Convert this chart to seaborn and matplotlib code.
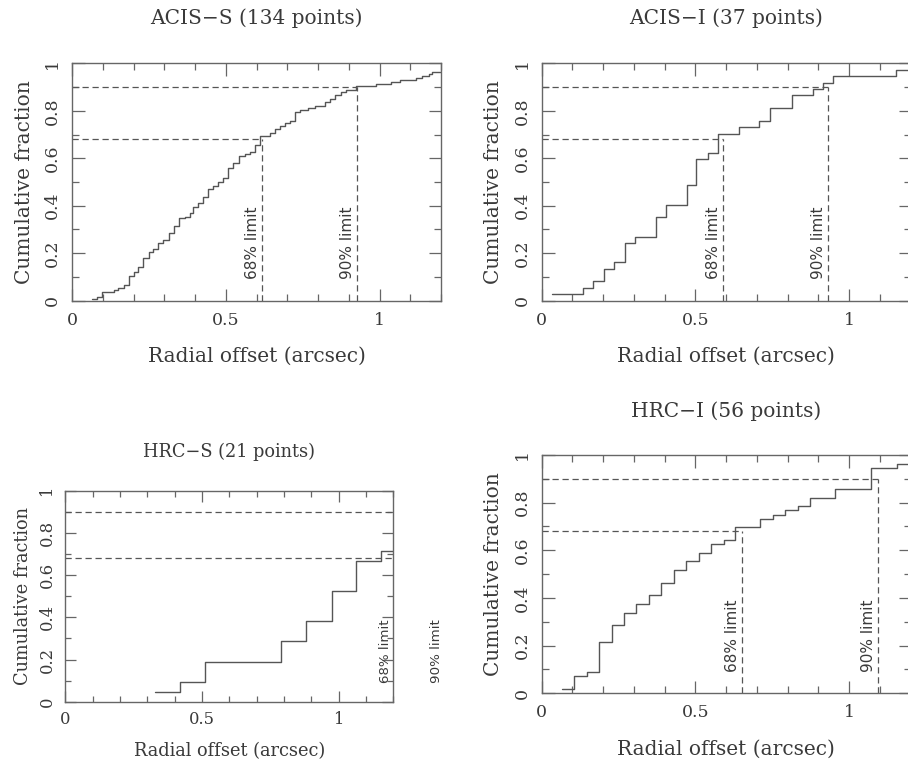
import pandas as pd
import matplotlib
matplotlib.use("Agg")
import matplotlib.pyplot as plt
import seaborn as sns
from matplotlib.ticker import MultipleLocator, FuncFormatter

# titres des panneaux
titles = ["ACIS−S (134 points)", "ACIS−I (37 points)",
          "HRC−S (21 points)", "HRC−I (56 points)"]

# positions des marches (arcsec) et fraction cumulée après chaque marche
acis_s_x = [0.065, 0.081, 0.099, 0.135, 0.151, 0.168, 0.184, 0.200, 0.216, 0.230,
            0.249, 0.265, 0.281, 0.297, 0.314, 0.333, 0.349, 0.368, 0.384, 0.395,
            0.411, 0.427, 0.443, 0.459, 0.476, 0.492, 0.508, 0.524, 0.543, 0.562,
            0.578, 0.595, 0.611, 0.643, 0.659, 0.676, 0.692, 0.708, 0.724, 0.741,
            0.768, 0.789, 0.822, 0.838, 0.854, 0.876, 0.892, 0.924, 0.989, 1.039,
            1.068, 1.120, 1.139, 1.161, 1.170]
acis_s_y = [0.007, 0.014, 0.035, 0.045, 0.052, 0.066, 0.105, 0.122, 0.143, 0.178,
            0.204, 0.218, 0.242, 0.256, 0.284, 0.315, 0.347, 0.354, 0.368, 0.396,
            0.410, 0.435, 0.469, 0.483, 0.499, 0.515, 0.558, 0.579, 0.610, 0.620,
            0.628, 0.656, 0.694, 0.708, 0.723, 0.736, 0.747, 0.757, 0.793, 0.803,
            0.813, 0.822, 0.838, 0.848, 0.866, 0.881, 0.888, 0.904, 0.913, 0.922,
            0.930, 0.937, 0.946, 0.955, 0.962]

acis_i_x = [0.032, 0.133, 0.168, 0.202, 0.235, 0.270, 0.304, 0.371, 0.403, 0.472,
            0.503, 0.541, 0.574, 0.643, 0.708, 0.743, 0.814, 0.881, 0.914, 0.946,
            1.151]
acis_i_y = [0.027, 0.054, 0.081, 0.135, 0.162, 0.243, 0.270, 0.351, 0.405, 0.486,
            0.595, 0.622, 0.703, 0.730, 0.757, 0.811, 0.865, 0.892, 0.919, 0.946,
            0.973]

hrc_s_x = [0.329, 0.421, 0.512, 0.789, 0.882, 0.976, 1.065, 1.156]
hrc_s_y = [0.048, 0.095, 0.190, 0.286, 0.381, 0.524, 0.667, 0.714]

hrc_i_x = [0.067, 0.106, 0.148, 0.186, 0.228, 0.268, 0.308, 0.349, 0.389, 0.429,
           0.470, 0.511, 0.551, 0.592, 0.630, 0.711, 0.751, 0.792, 0.832, 0.872,
           0.954, 1.072, 1.155]
hrc_i_y = [0.018, 0.071, 0.089, 0.214, 0.286, 0.339, 0.375, 0.411, 0.464, 0.518,
           0.554, 0.589, 0.625, 0.643, 0.696, 0.732, 0.750, 0.768, 0.786, 0.821,
           0.857, 0.946, 0.964]

# limites 68% / 90% (arcsec)
limit68 = [0.618, 0.591, 1.203, 0.651]
limit90 = [0.928, 0.930, 1.389, 1.094]
levels = [0.68, 0.90]
x_max = 1.2

curves = [(acis_s_x, acis_s_y), (acis_i_x, acis_i_y),
          (hrc_s_x, hrc_s_y), (hrc_i_x, hrc_i_y)]

# position des axes en pixels: gauche, haut, largeur, hauteur
boxes = [(72, 63.3, 369, 237.4), (541.7, 63.3, 369, 237.4),
         (65.3, 491, 328, 210.7), (541.7, 455, 369, 238.3)]
# échelle des textes (le panneau HRC-S est plus petit)
scales = [1.0, 1.0, 0.88, 1.0]
tick_scales = [1.0, 1.0, 0.94, 1.0]
title_y = [1.19, 1.19, 1.187, 1.182]

W, H = 908, 767
ink = "#3a3a3a"
line_col = "#555555"

sns.set_style("ticks")
plt.rcParams["font.family"] = ["DejaVu Serif"]


def fmt(v, pos):
    return f"{v:g}"


def draw_panel(fig, i):
    left, top, w, h = boxes[i]
    s = scales[i]
    ax = fig.add_axes([left / W, (H - top - h) / H, w / W, h / H])
    xs, ys = curves[i]
    df = pd.DataFrame({"offset": xs + [x_max], "frac": ys + [ys[-1]]})
    sns.lineplot(data=df, x="offset", y="frac", drawstyle="steps-post",
                 color=line_col, lw=1.0, ax=ax)

    # lignes des limites
    xl = [limit68[i], limit90[i]]
    ax.hlines(levels, 0, xl, colors=line_col, lw=0.9, linestyles=(0, (5, 3)))
    ax.vlines(xl, 0, levels, colors=line_col, lw=0.9, linestyles=(0, (5, 3)))
    for x, lab in zip(xl, ["68% limit", "90% limit"]):
        ax.text(x - 0.007, 0.09, lab, rotation=90, ha="right", va="bottom",
                fontsize=11 * s, family="DejaVu Sans", color=ink, clip_on=False)

    ax.set_xlim(0, x_max)
    ax.set_ylim(0, 1)
    ax.xaxis.set_major_locator(MultipleLocator(0.5))
    ax.xaxis.set_minor_locator(MultipleLocator(0.1))
    ax.yaxis.set_major_locator(MultipleLocator(0.2))
    ax.yaxis.set_minor_locator(MultipleLocator(0.1))
    ax.xaxis.set_major_formatter(FuncFormatter(fmt))
    ax.yaxis.set_major_formatter(FuncFormatter(fmt))
    ax.tick_params(which="both", direction="in", top=True, right=True,
                   color="#666666", width=0.9, labelsize=12.5 * tick_scales[i],
                   labelcolor=ink, pad=8 * s)
    ax.tick_params(which="major", length=9 * s)
    ax.tick_params(which="minor", length=5 * s)
    for lab in ax.get_yticklabels():
        lab.set_rotation(90)
        lab.set_va("center")
    for sp in ax.spines.values():
        sp.set_color("#666666")
        sp.set_linewidth(1.0)

    ax.set_xlabel("Radial offset (arcsec)", fontsize=14.5 * s, color=ink, va="center")
    ax.xaxis.set_label_coords(0.5, -0.235)
    ax.set_ylabel("Cumulative fraction", fontsize=14.5 * s, color=ink, va="center")
    ax.yaxis.set_label_coords(-0.13, 0.5)
    ax.set_title(titles[i], fontsize=14.5 * s, color=ink, y=title_y[i],
                 va="center", pad=0)
    return ax


fig = plt.figure(figsize=(W / 100, H / 100), dpi=100)
for i in range(4):
    draw_panel(fig, i)

fig.savefig("out.png", dpi=100)
